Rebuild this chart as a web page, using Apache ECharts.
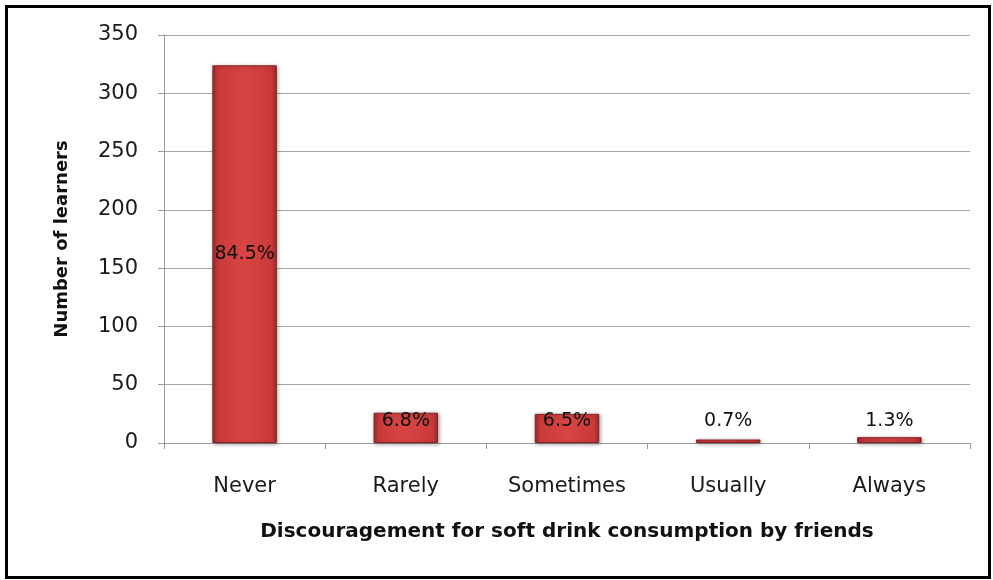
<!DOCTYPE html>
<html><head><meta charset="utf-8">
<script src="https://cdn.jsdelivr.net/npm/echarts@6/dist/echarts.min.js"></script>
<style>html,body{margin:0;padding:0;background:#fff}#c{width:993px;height:580px}</style>
</head><body><div id="c"></div>
<script>
const categories = ['Never', 'Rarely', 'Sometimes', 'Usually', 'Always'];
const learners = [324, 26, 25, 3, 5];
const percentLabels = ['84.5%', '6.8%', '6.5%', '0.7%', '1.3%'];
const yTicks = [0, 50, 100, 150, 200, 250, 300, 350];

const FONT = '"DejaVu Sans", sans-serif';
const chart = echarts.init(document.getElementById('c'), null, {renderer: 'canvas'});
const barColor = {
  type: 'linear', x: 0, y: 0, x2: 1, y2: 0,
  colorStops: [
    {offset: 0, color: '#9e2a2a'},
    {offset: 0.08, color: '#c83a3a'},
    {offset: 0.5, color: '#d94545'},
    {offset: 0.92, color: '#c83a3a'},
    {offset: 1, color: '#9e2a2a'}
  ]
};
chart.setOption({
  animation: false,
  graphic: [{
    type: 'rect', left: 4, top: 4, silent: true,
    shape: {width: 983, height: 571},
    style: {fill: 'none', stroke: '#000', lineWidth: 3}
  }],
  grid: {left: 164, right: 23, top: 35, bottom: 137},
  xAxis: {
    type: 'category', data: categories,
    axisLine: {lineStyle: {color: '#9a9a9a', width: 1}},
    axisTick: {show: true, length: 6, lineStyle: {color: '#9a9a9a'}},
    axisLabel: {color: '#1a1a1a', fontFamily: FONT, fontSize: 21, margin: 33},
    name: 'Discouragement for soft drink consumption by friends',
    nameLocation: 'middle', nameGap: 79,
    nameTextStyle: {color: '#111', fontFamily: FONT, fontSize: 20, fontWeight: 'bold'}
  },
  yAxis: {
    type: 'value', min: yTicks[0], max: yTicks[yTicks.length - 1], interval: 50,
    axisLine: {show: true, lineStyle: {color: '#9a9a9a'}},
    axisTick: {show: true, length: 6, lineStyle: {color: '#9a9a9a'}},
    splitLine: {lineStyle: {color: '#a6a6a6', width: 1}},
    axisLabel: {color: '#1a1a1a', fontFamily: FONT, fontSize: 21, margin: 26},
    name: 'Number of learners', nameLocation: 'middle', nameGap: 93,
    nameTextStyle: {color: '#111', fontFamily: FONT, fontSize: 18, fontWeight: 'bold'}
  },
  series: [{
    type: 'bar', barWidth: '40%',
    data: learners.map((v, i) => ({
      value: v,
      label: i === 0 ? {position: 'inside'} : {position: 'insideBottom', distance: 12}
    })),
    itemStyle: {color: barColor, borderColor: '#8a2222', borderWidth: 1,
      shadowColor: 'rgba(0,0,0,0.35)', shadowBlur: 4, shadowOffsetX: 1, shadowOffsetY: 1},
    label: {
      show: true, color: '#111', fontFamily: FONT, fontSize: 19,
      formatter: p => percentLabels[p.dataIndex]
    }
  }]
});
</script></body></html>
